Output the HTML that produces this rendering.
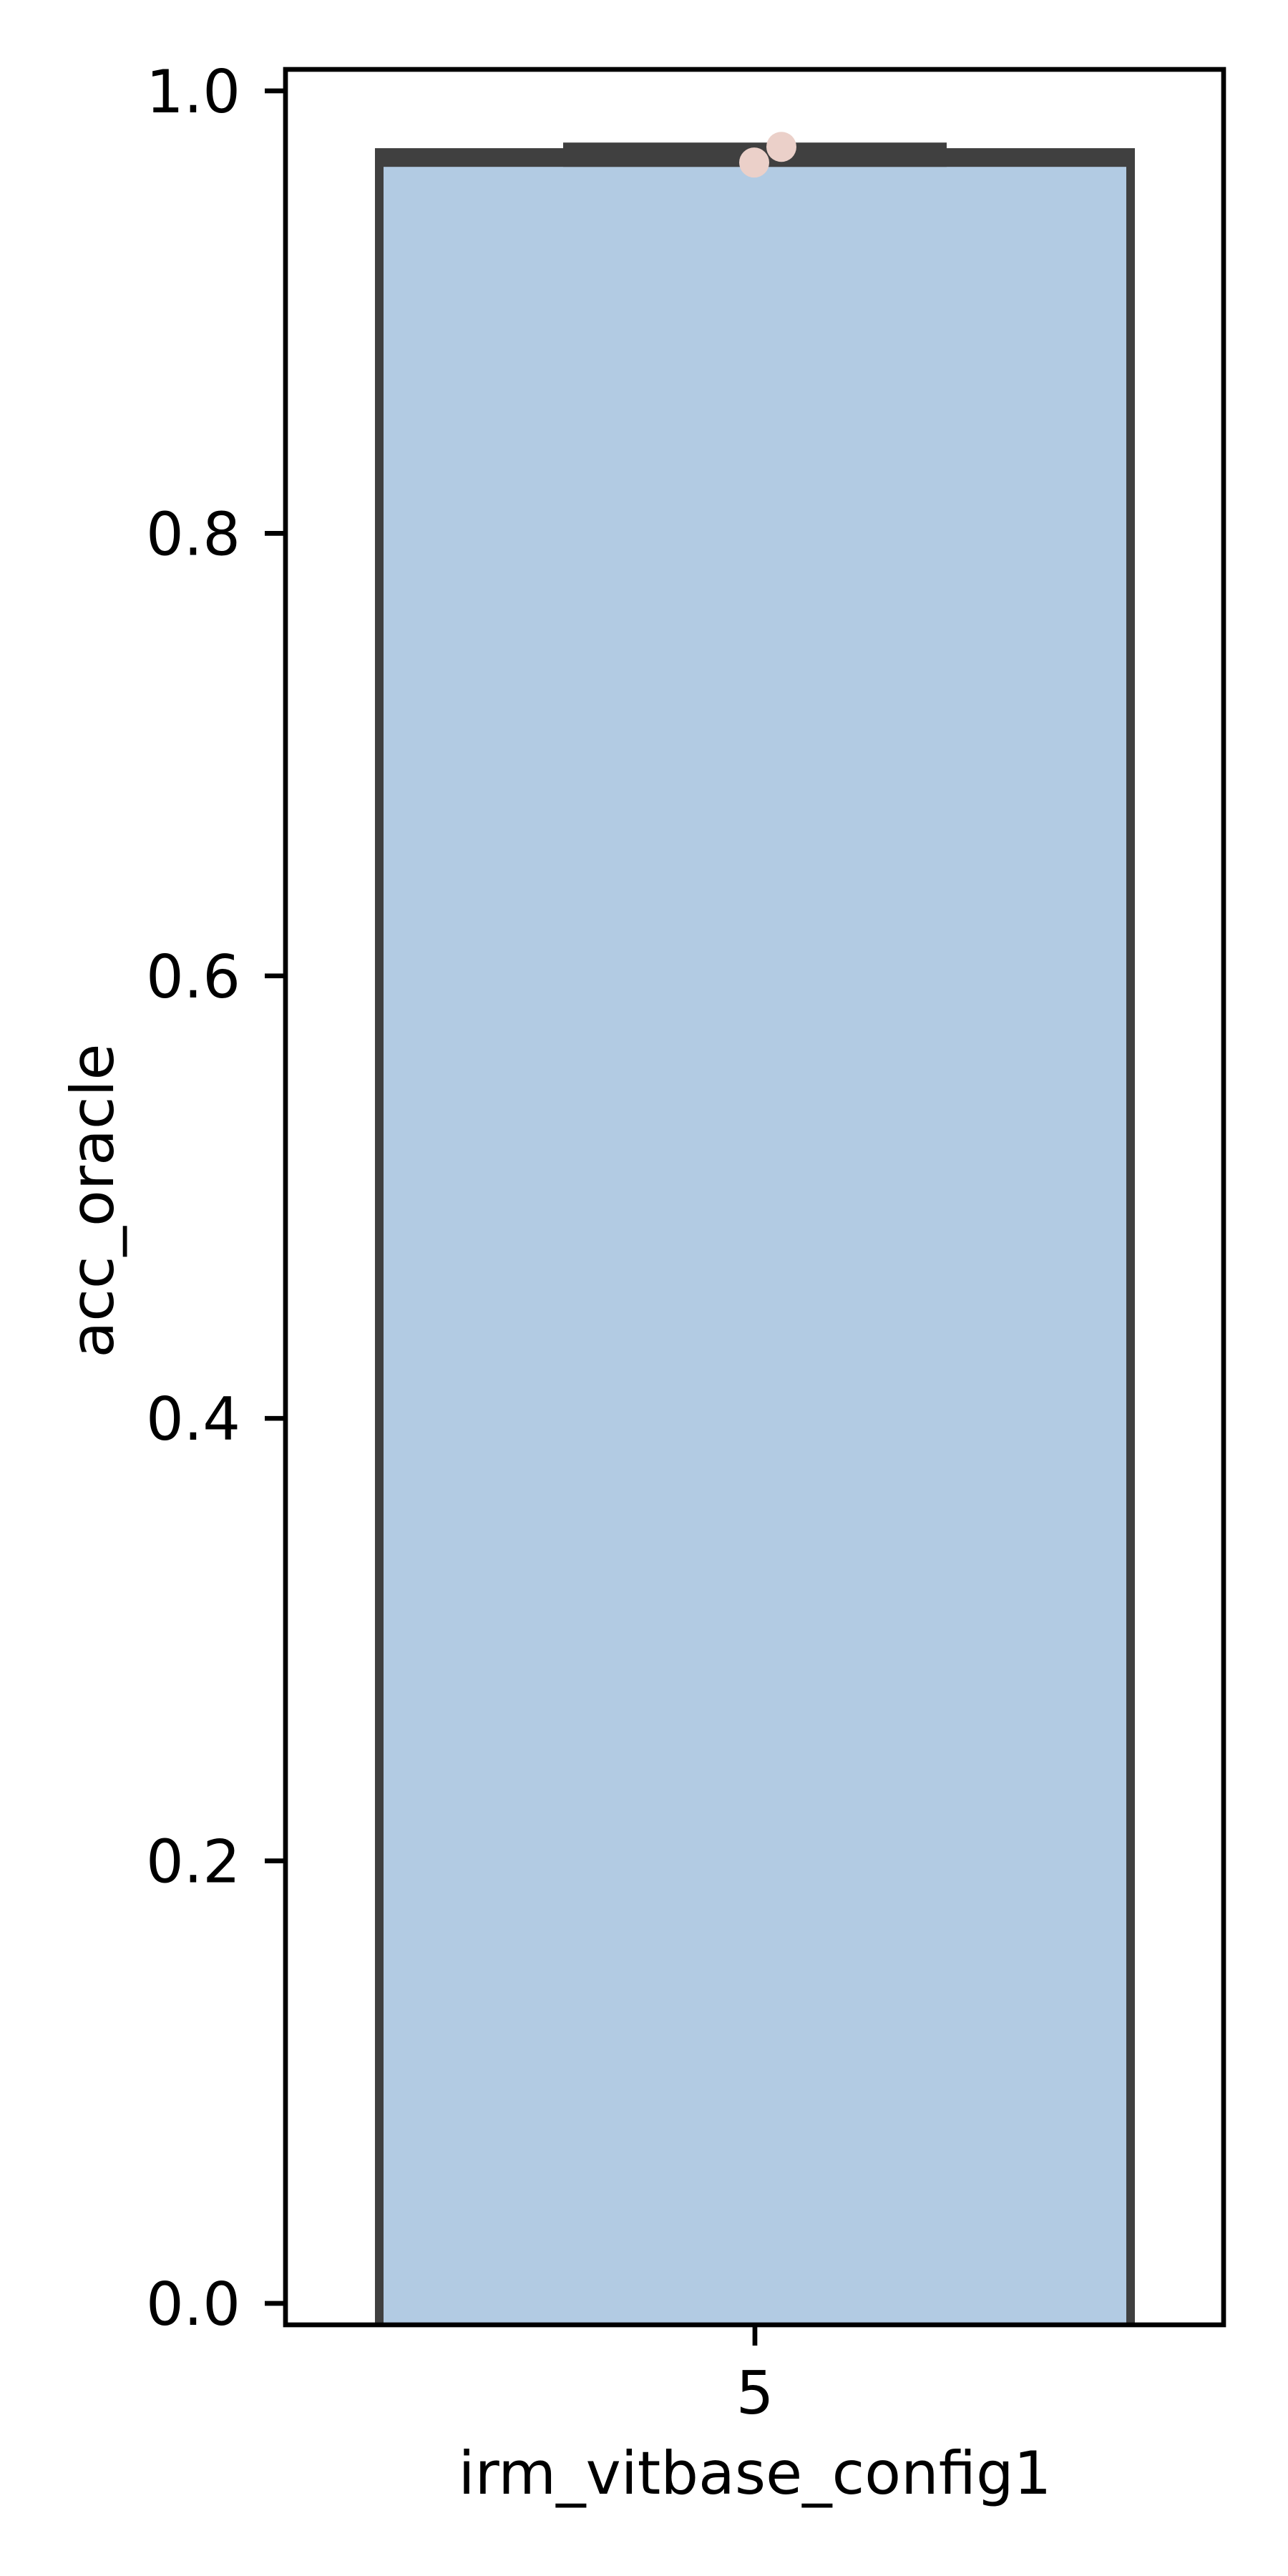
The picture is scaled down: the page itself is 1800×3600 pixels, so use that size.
<!DOCTYPE html>
<html><head><meta charset="utf-8"><style>
html,body{margin:0;padding:0;background:#fff}
svg{display:block}
text{font-family:"DejaVu Sans","Liberation Sans",sans-serif;fill:#000}
</style></head><body>
<svg id="chart" width="1800" height="3600" viewBox="0 0 1800 3600" xmlns="http://www.w3.org/2000/svg">
<rect width="1800" height="3600" fill="#fff"/>
<g id="plot"></g>
</svg>
<script>
const categories = ["5"];
const pointValues = [0.9676, 0.9747];
const yTicks = [0, 0.2, 0.4, 0.6, 0.8, 1.0];
const yTickLabels = ["0.0", "0.2", "0.4", "0.6", "0.8", "1.0"];

const NS = "http://www.w3.org/2000/svg";
const g = document.getElementById('plot');
const L = 399, R = 1710, T = 97, B = 3249;
function yScale(v){ return 3219 - v * 3092; }
function xScale(i){ return 1055 + i * 1000; }
function mk(tag, attrs, parent){
  const e = document.createElementNS(NS, tag);
  for (const k in attrs) e.setAttribute(k, attrs[k]);
  (parent || g).appendChild(e);
  return e;
}

const mean = pointValues.reduce((a,b)=>a+b,0)/pointValues.length;
categories.forEach((c, i) => {
  const cx = xScale(i);
  const lo = Math.min(...pointValues), hi = Math.max(...pointValues);
  const bar = mk('rect', {x: cx - 525, y: yScale(mean) - 3, width: 1050, height: yScale(0) - yScale(mean) + 60, fill: '#b2cbe3', stroke: '#404040', 'stroke-width': 12});
  
  
  const band = mk('rect', {x: cx - 531, y: yScale(mean) - 9, width: 1062, height: yScale(lo) + 6 - (yScale(mean) - 9), fill: '#404040'});
  
  
  const eb = mk('rect', {x: cx - 268, y: yScale(hi) - 6, width: 536, height: yScale(lo) - yScale(hi) + 12, fill: '#404040'});
  
  
});
const jitter = [-1, 37];
pointValues.forEach((v, i) => {
  const p = mk('ellipse', {cx: xScale(0) + jitter[i], cy: yScale(v), rx: 21, ry: 21, fill: '#ebd0c9'});
  
  
});
mk('rect', {x: 0, y: B + 3, width: 1800, height: 400, fill: '#fff'});
const frame = mk('rect', {x: L, y: T, width: R - L, height: B - T, fill: 'none', stroke: '#000', 'stroke-width': 6.7});


yTicks.forEach((v, i) => {
  const y = yScale(v);
  const t = mk('line', {x1: L - 29, x2: L, y1: y, y2: y, stroke: '#000', 'stroke-width': 6.7});
  
  
  const lb = mk('text', {x: 336, y: y + 30, 'text-anchor': 'end', 'font-size': 83});
  lb.textContent = yTickLabels[i];
  
  
});
categories.forEach((c, i) => {
  const x = xScale(i);
  const t = mk('line', {x1: x, x2: x, y1: B, y2: B + 29, stroke: '#000', 'stroke-width': 6.7});
  
  
  const lb = mk('text', {x: x, y: 3373, 'text-anchor': 'middle', 'font-size': 83});
  lb.textContent = c;
  
  
});
const xt = mk('text', {x: 1055, y: 3485, 'text-anchor': 'middle', 'font-size': 83});
xt.textContent = 'irm_vitbase_config1';


const yt = mk('text', {x: 0, y: 0, 'text-anchor': 'middle', 'font-size': 83, transform: 'translate(158,1678) rotate(-90)'});
yt.textContent = 'acc_oracle';


</script>
</body></html>
